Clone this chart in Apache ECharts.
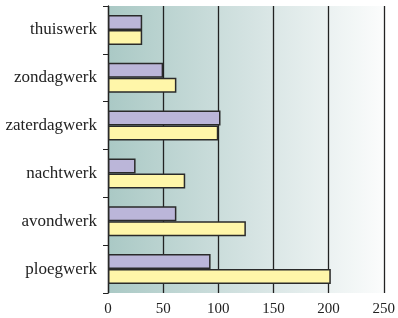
<!DOCTYPE html>
<html>
<head>
<meta charset="utf-8">
<script src="https://cdn.jsdelivr.net/npm/echarts@6/dist/echarts.min.js"></script>
<style>
  html, body { margin: 0; padding: 0; background: #fff; }
  #chart { width: 398px; height: 318px; }
</style>
</head>
<body>
<div id="chart"></div>
<script>
// categories from bottom to top
var categories = ['ploegwerk', 'avondwerk', 'nachtwerk', 'zaterdagwerk', 'zondagwerk', 'thuiswerk'];
var purpleValues = [93, 62, 25, 102, 50, 31];
var yellowValues = [202, 125, 70, 100, 62, 31];
var xTicks = [0, 50, 100, 150, 200, 250];

var chart = echarts.init(document.getElementById('chart'));
var font = '"Liberation Serif", "DejaVu Serif", serif';

chart.setOption({
    animation: false,
    grid: {
        left: 108, right: 11, top: 6, bottom: 25,
        show: true,
        borderWidth: 0,
        backgroundColor: new echarts.graphic.LinearGradient(0, 0, 1, 0, [
            { offset: 0, color: '#aac9c5' },
            { offset: 0.5, color: '#d3e2e1' },
            { offset: 1, color: '#fbfcfc' }
        ])
    },
    xAxis: {
        type: 'value',
        min: xTicks[0],
        max: xTicks[xTicks.length - 1],
        interval: 50,
        axisLine: { show: false },
        axisTick: { show: false },
        axisLabel: { color: '#222', fontFamily: font, fontSize: 15, margin: 9 },
        splitLine: { show: true, lineStyle: { color: '#222', width: 1.3 } }
    },
    yAxis: {
        type: 'category',
        data: categories,
        axisLine: { show: true, lineStyle: { color: '#222', width: 1.3 } },
        axisTick: { show: true, length: 5, lineStyle: { color: '#222' } },
        axisLabel: { color: '#222', fontFamily: font, fontSize: 17, margin: 11 },
        splitLine: { show: false }
    },
    series: [
        {
            type: 'bar',
            data: purpleValues,
            barWidth: 15,
            barGap: '0%',
            itemStyle: { color: '#bbb6d9', borderColor: '#2a2a2a', borderWidth: 1.5 }
        },
        {
            type: 'bar',
            data: yellowValues,
            barWidth: 15,
            barGap: '0%',
            itemStyle: { color: '#fff6a9', borderColor: '#2a2a2a', borderWidth: 1.5 }
        }
    ]
});
</script>
</body>
</html>
